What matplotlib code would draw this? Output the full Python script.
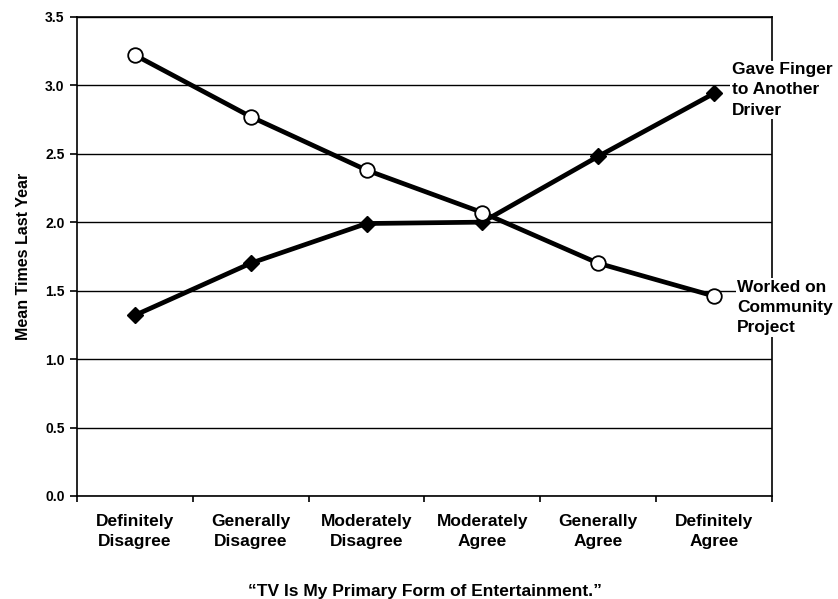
import matplotlib
matplotlib.use("Agg")
import matplotlib.pyplot as plt
import numpy as np

plt.rcParams["font.family"] = ["Liberation Sans", "DejaVu Sans"]
plt.rcParams["font.weight"] = "bold"

categories = ["Definitely\nDisagree", "Generally\nDisagree", "Moderately\nDisagree",
              "Moderately\nAgree", "Generally\nAgree", "Definitely\nAgree"]
community = [3.22, 2.77, 2.38, 2.07, 1.70, 1.46]
finger = [1.32, 1.70, 1.99, 2.00, 2.48, 2.94]
yticks = [0.0, 0.5, 1.0, 1.5, 2.0, 2.5, 3.0, 3.5]

fig = plt.figure(figsize=(8.38, 5.99), dpi=100)
ax = fig.add_axes([0.092, 0.172, 0.829, 0.8])

x = np.arange(len(categories)) + 0.5
ax.plot(x, finger, color="black", lw=3.4, marker="D", ms=8,
        mfc="black", mec="black", zorder=3)
ax.plot(x, community, color="black", lw=3.4, marker="o", ms=10.5,
        mfc="white", mec="black", mew=1.3, zorder=4)

ax.set_xlim(0, len(categories))
ax.set_ylim(0, 3.5)
ax.set_yticks(yticks)
ax.set_yticklabels([f"{v:.1f}" for v in yticks], fontsize=10, fontweight="bold")
ax.yaxis.grid(True, color="black", lw=1.0)
ax.set_axisbelow(True)

ax.set_xticks(np.arange(len(categories) + 1))
ax.set_xticklabels([])
ax.set_xticks(x, minor=True)
ax.set_xticklabels(categories, minor=True, fontsize=12.5, fontweight="bold",
                   linespacing=1.4)
ax.tick_params(axis="x", which="minor", length=0, pad=13)
ax.tick_params(axis="x", which="major", length=4, width=1.2, direction="out")
ax.tick_params(axis="y", length=5, width=1.2, direction="out", pad=4)

for s in ax.spines.values():
    s.set_linewidth(1.2)

ax.set_ylabel("Mean Times Last Year", fontsize=11.5, fontweight="bold", labelpad=10)
ax.set_xlabel("\u201cTV Is My Primary Form of Entertainment.\u201d",
              fontsize=12.5, fontweight="bold", labelpad=25)

ax.text(5.655, 3.17, "Gave Finger\nto Another\nDriver", fontsize=12.5,
        fontweight="bold", va="top", ha="left", linespacing=1.45,
        bbox=dict(facecolor="white", edgecolor="none", pad=1), clip_on=False, zorder=5)
ax.text(5.70, 1.58, "Worked on\nCommunity\nProject", fontsize=12.5,
        fontweight="bold", va="top", ha="left", linespacing=1.45,
        bbox=dict(facecolor="white", edgecolor="none", pad=1), clip_on=False, zorder=5)

fig.savefig("out.png", dpi=100)
